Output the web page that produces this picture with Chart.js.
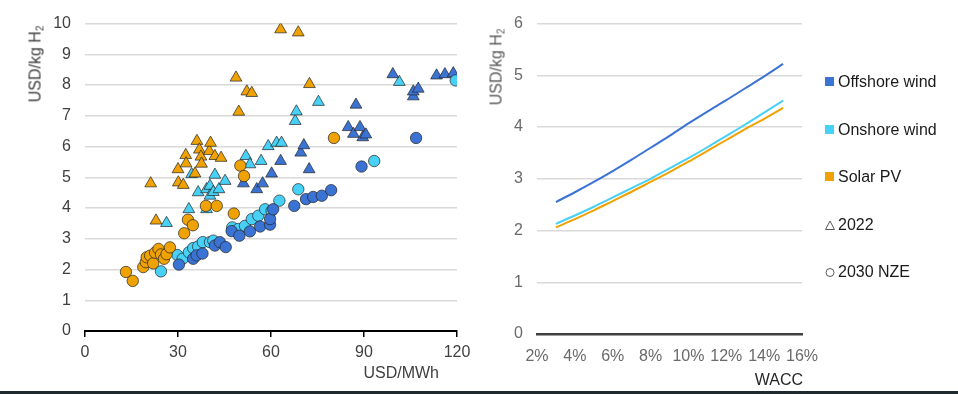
<!DOCTYPE html>
<html>
<head>
<meta charset="utf-8">
<title>Hydrogen cost vs electricity cost and WACC</title>
<script src="https://cdn.jsdelivr.net/npm/chart.js@4.4.1/dist/chart.umd.min.js"></script>
<style>
  body { margin: 0; background: #fff; font-family: "Liberation Sans", Arial, sans-serif; }
  #wrap { position: relative; width: 958px; height: 394px; overflow: hidden; background: #fff; }
  #left { position: absolute; left: 0; top: 0; }
  #right { position: absolute; left: 480px; top: 0; }
  .ytitle { position: absolute; font-size: 16px; white-space: nowrap; transform: translate(-50%, -50%) rotate(-90deg); }
  .xtitle { position: absolute; font-size: 16px; line-height: 18px; white-space: nowrap; }
  .ytitle sub { font-size: 10px; vertical-align: -3px; }
  .leg { position: absolute; left: 825px; font-size: 16px; line-height: 18px; color: #1a1a1a; white-space: nowrap; }
  .leg .sw { display: inline-block; width: 9px; height: 9px; margin-right: 4px; vertical-align: 1px; }
  .leg svg { margin-right: 3px; vertical-align: 0px; }
  #foot { position: absolute; left: 0; bottom: 0; width: 958px; height: 3px; background: #1e2a2e; }
</style>
</head>
<body>
<div id="wrap">
  <canvas id="left" width="480" height="394"></canvas>
  <canvas id="right" width="478" height="394"></canvas>

  <div class="ytitle" style="left:36px; top:64px; color:#404040;">USD/kg H<sub>2</sub></div>
  <div class="xtitle" style="right:519px; top:364px; color:#404040;">USD/MWh</div>
  <div class="ytitle" style="left:497px; top:67px; color:#595959;">USD/kg H<sub>2</sub></div>
  <div class="xtitle" style="right:155px; top:371px; color:#262626;">WACC</div>

  <div class="leg" style="top:73px;"><span class="sw" style="background:#3b73d4"></span>Offshore wind</div>
  <div class="leg" style="top:121px;"><span class="sw" style="background:#48d1f7"></span>Onshore wind</div>
  <div class="leg" style="top:168px;"><span class="sw" style="background:#f0a202"></span>Solar PV</div>
  <div class="leg" style="top:216px;"><svg width="10" height="10"><polygon points="5,1 9.5,9.5 0.5,9.5" fill="none" stroke="#595959" stroke-width="1"/></svg>2022</div>
  <div class="leg" style="top:263px;"><svg width="10" height="10"><circle cx="5" cy="5.5" r="4" fill="none" stroke="#595959" stroke-width="1"/></svg>2030 NZE</div>

  <div id="foot"></div>
</div>

<script>
// left panel: [USD/MWh, USD/kg H2]
const solar2022 = [[21.2,4.80],[22.9,3.59],[30.0,5.26],[30.1,4.83],[31.7,4.75],[32.5,5.72],[32.6,5.45],[35.5,5.12],
  [36.1,6.18],[36.9,5.90],[37.4,5.67],[37.6,5.44],[40.1,5.85],[40.5,6.12],[41.9,5.69],[43.9,5.63],[48.7,8.24],
  [49.6,7.13],[52.2,7.79],[53.8,7.74],[63.1,9.81],[68.8,9.71],[72.4,8.03]];
const onshore2022 = [[26.3,3.51],[33.5,3.96],[34.4,5.10],[36.5,4.51],[39.2,3.96],[39.2,4.61],[40.3,4.72],[40.3,4.40],
  [41.4,4.52],[41.9,5.08],[43.2,4.61],[45.2,4.88],[51.9,5.69],[53.2,5.42],[56.8,5.53],[59.1,6.01],[61.8,6.12],
  [63.4,6.12],[67.8,6.83],[68.2,7.14],[75.3,7.45],[101.4,8.10]];
const offshore2022 = [[51.1,4.80],[55.4,4.61],[57.3,4.80],[60.2,5.12],[63.1,5.53],[69.6,5.80],[70.6,6.04],[72.3,5.26],
  [84.9,6.63],[86.6,6.41],[87.4,7.36],[88.7,6.63],[89.6,6.30],[90.6,6.39],[99.3,8.35],[105.9,7.63],[105.9,7.79],
  [107.5,7.88],[113.4,8.31],[116.1,8.35],[118.8,8.38]];
const solarNze = [[13.2,1.92],[15.4,1.63],[18.8,2.08],[19.6,2.24],[19.9,2.40],[21.0,2.45],[22.0,2.20],[22.6,2.55],
  [23.7,2.67],[24.5,2.49],[25.5,2.35],[26.3,2.50],[27.4,2.72],[32.0,3.18],[33.2,3.62],[34.8,3.44],[39.0,4.07],
  [42.5,4.07],[48.0,3.82],[50.1,5.38],[51.3,5.04],[80.3,6.28]];
const onshoreNze = [[24.5,1.94],[29.8,2.47],[31.5,2.35],[33.5,2.56],[34.9,2.70],[36.5,2.75],[38.0,2.89],[40.3,2.89],
  [41.4,2.94],[47.5,3.37],[49.5,3.32],[51.6,3.42],[53.8,3.64],[55.9,3.75],[58.1,3.96],[60.2,3.91],[62.7,4.24],
  [68.8,4.61],[93.3,5.53],[119.6,8.15]];
const offshoreNze = [[30.3,2.16],[34.9,2.35],[36.0,2.46],[37.9,2.52],[41.9,2.78],[43.5,2.89],[45.4,2.73],[47.3,3.25],
  [49.8,3.10],[53.2,3.24],[56.5,3.40],[59.7,3.46],[59.7,3.64],[60.7,3.96],[67.5,4.07],[71.3,4.29],[73.6,4.36],
  [76.4,4.40],[79.4,4.58],[89.2,5.35],[106.8,6.28]];
const xTicksLeft = [0, 30, 60, 90, 120];

// right panel: cost vs WACC (%)
const wacc = [3, 4, 5, 6, 7, 8, 9, 10, 11, 12, 13, 14, 15];
const offshoreWacc = [2.55, 2.74, 2.94, 3.15, 3.37, 3.60, 3.83, 4.07, 4.30, 4.52, 4.75, 4.98, 5.22];
const onshoreWacc = [2.13, 2.29, 2.46, 2.64, 2.82, 3.00, 3.20, 3.40, 3.61, 3.83, 4.05, 4.28, 4.51];
const solarWacc = [2.06, 2.22, 2.39, 2.57, 2.75, 2.94, 3.13, 3.33, 3.54, 3.75, 3.96, 4.16, 4.37];

const BLUE = '#3b73d4', CYAN = '#48d1f7', ORANGE = '#f0a202';
const EDGE = 'rgba(35,35,35,0.7)';

Chart.defaults.font.family = '"Liberation Sans", Arial, sans-serif';
Chart.defaults.font.size = 16;
Chart.defaults.animation = false;
Chart.defaults.events = [];

function pts(list) { return list.map(p => ({ x: p[0], y: p[1] })); }

function markers(list, color, shape) {
    return {
        data: pts(list),
        backgroundColor: color,
        borderColor: EDGE,
        borderWidth: 1,
        pointStyle: shape,
        pointRadius: shape === 'triangle' ? 6.8 : 5.7
    };
}

// first dataset ends up on top
new Chart(document.getElementById('left'), {
    type: 'scatter',
    data: {
        datasets: [
            markers(solarNze, ORANGE, 'circle'),
            markers(offshoreNze, BLUE, 'circle'),
            markers(onshoreNze, CYAN, 'circle'),
            markers(solar2022, ORANGE, 'triangle'),
            markers(offshore2022, BLUE, 'triangle'),
            markers(onshore2022, CYAN, 'triangle')
        ]
    },
    options: {
        responsive: false,
        layout: { padding: { left: 0, right: 23, top: 22, bottom: 0 } },
        plugins: { legend: { display: false }, tooltip: { enabled: false } },
        scales: {
            x: {
                type: 'linear', min: 0, max: 120,
                afterBuildTicks: s => { s.ticks = xTicksLeft.map(v => ({ value: v })); },
                afterFit: s => { s.height = 63; },
                grid: { drawOnChartArea: false, drawTicks: true, tickLength: 6, color: '#000', lineWidth: 1.5 },
                border: { color: '#000', width: 2 },
                ticks: { color: '#404040', padding: 6, maxRotation: 0 }
            },
            y: {
                min: 0, max: 10,
                ticks: { stepSize: 1, color: '#404040', padding: 14 },
                afterFit: s => { s.width = 85; },
                grid: { color: '#d9d9d9', lineWidth: 1.5, drawTicks: false },
                border: { display: false }
            }
        }
    }
});

function curve(values, color) {
    return {
        data: wacc.map((w, i) => ({ x: w, y: values[i] })),
        borderColor: color,
        borderWidth: 2,
        pointRadius: 0,
        tension: 0.3,
        fill: false
    };
}

new Chart(document.getElementById('right'), {
    type: 'line',
    data: {
        datasets: [
            curve(offshoreWacc, BLUE),
            curve(onshoreWacc, CYAN),
            curve(solarWacc, ORANGE)
        ]
    },
    options: {
        responsive: false,
        layout: { padding: { left: 0, right: 156, top: 22, bottom: 0 } },
        plugins: { legend: { display: false }, tooltip: { enabled: false } },
        scales: {
            x: {
                type: 'linear', min: 2, max: 16,
                ticks: { stepSize: 2, color: '#6a6a6a', padding: 5, maxRotation: 0, callback: v => v + '%' },
                afterFit: s => { s.height = 60; },
                grid: { display: false },
                border: { color: '#404040', width: 2.5 }
            },
            y: {
                min: 0, max: 6,
                ticks: { stepSize: 1, color: '#6a6a6a', padding: 14 },
                afterFit: s => { s.width = 57; },
                grid: { color: '#d9d9d9', lineWidth: 1.5, drawTicks: false },
                border: { display: false }
            }
        }
    }
});
</script>
</body>
</html>
